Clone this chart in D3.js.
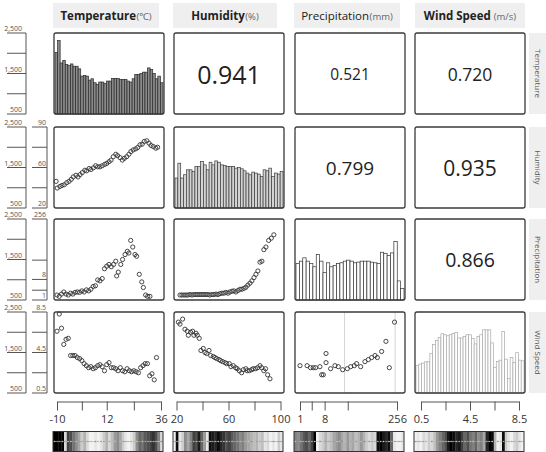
<!DOCTYPE html>
<html>
<head>
<meta charset="utf-8">
<script src="https://cdn.jsdelivr.net/npm/d3@7/dist/d3.min.js"></script>
<style>
html,body{margin:0;padding:0;background:#fff;}
svg{display:block;}
text{font-family:"Open Sans","Noto Sans",sans-serif;}
</style>
</head>
<body>
<svg id="chart" width="546" height="452"></svg>
<script>
// ---------------- DATA ----------------
const variableNames = ["Temperature", "Humidity", "Precipitation", "Wind Speed"];
const variableUnits = ["(℃)", "(%)", "(mm)", "(m/s)"];

const countTicks = [500, 1000, 1500, 2000, 2500];
const countLabels = [2500, 1500, 500];

const tempTicks = [-10, 1, 12, 24, 36];
const tempLabels = [-10, 12, 36];
const humTicks = [20, 40, 60, 80, 100];
const humLabels = [20, 60, 100];
const humLeftTicks = [20, 40, 60, 75, 90];
const humLeftLabels = [20, 60, 90];
const precTicks = [1, 3, 8, 32, 256];
const precLabels = [1, 8, 256];
const windTicks = [0.5, 2.5, 4.5, 6.5, 8.5];
const windLabels = [0.5, 4.5, 8.5];

// histogram counts (diagonal)
const tempHist = [2020, 2313, 1760, 1825, 1720, 1695, 1736, 1679, 1679, 1614, 1435, 1451, 1435, 1337, 1370, 1272, 1232, 1289, 1289, 1256, 1313, 1313, 1378, 1378, 1378, 1354, 1354, 1354, 1313, 1289, 1370, 1476, 1476, 1500, 1533, 1533, 1638, 1598, 1500, 1370, 1435, 1272];
const humHist = [1240, 1606, 1240, 1321, 1443, 1443, 1402, 1524, 1524, 1646, 1565, 1443, 1630, 1565, 1663, 1630, 1565, 1549, 1524, 1524, 1524, 1484, 1500, 1468, 1419, 1362, 1321, 1386, 1362, 1337, 1280, 1443, 1419, 1484, 1280, 1362, 1337, 1402];
const precHist = [1402, 1459, 1541, 1459, 1402, 1321, 1622, 1459, 1175, 1419, 1321, 1354, 1402, 1419, 1459, 1484, 1459, 1419, 1435, 1459, 1459, 1459, 1435, 1419, 1402, 1679, 1646, 1598, 1663, 1947, 971, 785];
const windHist = [1175, 1215, 1239, 1271, 1271, 1480, 1697, 1793, 1874, 1962, 1938, 1914, 1938, 1970, 1994, 1858, 1858, 1898, 1938, 1938, 1842, 1713, 1898, 1938, 2059, 2059, 2059, 1737, 1135, 1279, 1311, 2018, 1336, 854, 1376, 1255, 1496, 1311, 1295];

// correlations (upper triangle) : [row, col]
const corrPairs = [[0, 1], [0, 2], [0, 3], [1, 2], [1, 3], [2, 3]];
const corrValues = [0.941, 0.521, 0.720, 0.799, 0.935, 0.866];

// scatter: Humidity vs Temperature
const humTempX = [-10.4, -9.9, -8.7, -7.8, -6.8, -5.7, -4.7, -3.7, -2.8, -1.6, -0.7, 0.2, 1.2, 2.3, 3.1, 4.2, 5.0, 6.1, 7.1, 8.0, 9.0, 10.0, 11.1, 12.0, 13.0, 13.9, 14.9, 16.0, 16.8, 17.9, 18.9, 19.8, 20.8, 21.8, 22.7, 23.7, 24.8, 25.7, 26.7, 27.7, 28.6, 29.7, 30.7, 31.6, 32.6, 33.7, 34.5];
const humTempY = [46.3, 39.7, 41.3, 42.3, 43.0, 45.0, 46.3, 48.3, 50.7, 52.3, 50.7, 53.0, 55.0, 57.3, 56.7, 59.0, 58.0, 59.7, 61.3, 60.5, 60.5, 61.3, 62.3, 63.0, 64.3, 65.5, 68.0, 69.8, 68.8, 67.3, 65.5, 66.8, 68.0, 69.8, 71.8, 73.0, 73.8, 74.8, 76.8, 77.3, 79.3, 79.8, 78.0, 76.3, 75.5, 74.3, 75.0];
// scatter: Precipitation vs Temperature
const precTempX = [-10, -9, -8, -7, -6, -5, -4, -3, -2, -1, 0, 1, 2, 3, 4, 5, 6, 7, 8, 9, 10, 11, 12, 13, 14, 15, 16, 16.4, 17.1, 18.2, 19.0, 20.1, 21.1, 21.8, 22.6, 23.5, 24.5, 25.2, 26.4, 27.5, 28.2, 29.2, 30.1, 31.1];
const precTempY = [1.8, 1.55, 2.0, 2.5, 2.0, 1.8, 2.2, 2.0, 2.4, 2.5, 2.4, 2.8, 2.5, 3.1, 2.8, 3.3, 4.3, 4.6, 7.7, 7.1, 8.6, 18.1, 21.6, 24.2, 20.8, 24.2, 29.9, 10.6, 14.2, 24.2, 33.3, 44.9, 54.1, 49.1, 96.5, 68.5, 44.9, 40.6, 12.0, 6.5, 3.9, 1.8, 1.55, 1.55];
// scatter: Precipitation vs Humidity
const precHumX = [22.7, 24.2, 25.8, 27.3, 28.8, 30.4, 31.9, 33.4, 35.0, 36.5, 38.1, 39.6, 41.1, 42.7, 44.2, 45.7, 47.3, 48.8, 50.4, 51.9, 53.4, 55.0, 56.5, 58.0, 59.6, 61.1, 62.7, 64.2, 65.7, 67.3, 68.8, 70.3, 71.9, 73.4, 74.9, 76.5, 78.0, 79.6, 81.1, 82.6, 84.2, 85.7, 87.2, 88.8, 90.9, 92.9, 94.9];
const precHumY = [1.8, 1.8, 1.8, 1.8, 1.8, 1.9, 1.8, 1.9, 1.9, 1.9, 1.9, 1.9, 1.9, 1.9, 1.9, 1.8, 1.9, 1.9, 2.0, 1.9, 2.1, 2.2, 2.2, 2.4, 2.2, 2.5, 2.7, 2.8, 2.5, 2.9, 3.3, 3.3, 3.6, 4.0, 4.9, 5.8, 7.1, 9.3, 12.0, 15.4, 28.1, 29.9, 59.3, 68.5, 96.5, 108, 127];
// scatter: Wind Speed vs Temperature
const windTempX = [-10, -9, -8, -7, -6, -5, -4, -3, -2, -1, 0, 1, 2, 3, 4, 5, 6, 7, 8, 9, 10, 11, 12, 13, 14, 15, 16, 17, 18, 19, 20, 21, 22, 23, 24, 25, 26, 27, 28, 29, 30, 31, 32, 33, 34];
const windTempY = [6.6, 8.3, 6.9, 5.3, 5.8, 5.9, 4.2, 4.2, 4.2, 4.0, 3.9, 3.7, 3.4, 3.2, 3.0, 3.1, 2.9, 3.0, 3.2, 3.3, 3.1, 2.7, 3.3, 3.5, 3.0, 3.0, 2.9, 2.7, 3.0, 2.7, 2.6, 2.9, 2.7, 2.6, 2.7, 2.6, 2.5, 3.0, 3.2, 3.4, 3.4, 2.2, 2.4, 1.8, 4.0];
// scatter: Wind Speed vs Humidity
const windHumX = [21.4, 22.7, 24.7, 26.5, 28.3, 29.1, 30.9, 32.4, 33.4, 35.0, 36.0, 37.5, 38.8, 40.6, 41.9, 43.2, 45.0, 46.3, 48.3, 49.6, 50.9, 52.7, 53.9, 55.5, 57.3, 58.6, 60.6, 61.9, 63.7, 65.5, 66.7, 68.3, 70.1, 71.4, 73.4, 74.4, 76.0, 77.8, 79.0, 80.8, 82.4, 84.2, 85.5, 87.2, 88.5, 90.1, 91.9];
const windHumY = [7.5, 7.3, 7.8, 6.8, 6.6, 6.2, 6.5, 6.6, 6.2, 6.4, 6.2, 5.9, 4.7, 4.9, 4.5, 4.4, 4.7, 4.2, 4.1, 4.0, 3.9, 3.8, 3.7, 3.6, 3.5, 3.4, 3.4, 3.1, 3.2, 3.0, 2.9, 2.7, 2.5, 2.8, 2.9, 2.7, 2.7, 2.8, 2.9, 2.9, 3.0, 3.2, 3.0, 2.7, 2.9, 2.3, 1.9];
// scatter: Wind Speed vs Precipitation
const windPrecX = [1, 2.0, 2.7, 3.4, 4.1, 5.7, 6.5, 7.3, 8.8, 8.8, 11.9, 15.6, 19.0, 24.3, 31.3, 37.2, 44.6, 49.9, 60.3, 73.3, 84.9, 97.9, 112.6, 123.4, 146, 172, 195, 235];
const windPrecY = [3.2, 3.2, 3.0, 3.0, 3.0, 3.1, 2.3, 2.3, 3.5, 4.4, 2.9, 3.2, 3.1, 2.8, 2.9, 3.1, 3.2, 3.4, 3.1, 3.6, 3.8, 4.0, 4.2, 4.0, 4.6, 5.6, 3.0, 7.5];
const precRefLines = [27, 240];

// bottom density strips (darkness 0..1 per bin)
const tempStrip = [1, 1, 1, 1, 0.15, 0.75, 0.7, 0.55, 0.45, 0.35, 0.2, 0.3, 0.15, 0.05, 0.05, 0.1, 0.05, 0.1, 0.2, 0.3, 0.15, 0.25, 0.4, 0.45, 0.35, 0.2, 0.1, 0.05, 0.1, 0.2, 0.45, 0.6, 0.55, 0.65, 0.7, 0.75, 0.8, 0.7, 0.5, 0.15];
const humStrip = [0.05, 0.95, 0.1, 0.2, 0.45, 0.35, 0.5, 0.75, 0.7, 0.9, 0.6, 0.4, 0.1, 0.95, 0.9, 0.85, 0.95, 0.85, 0.8, 0.7, 0.75, 0.65, 0.6, 0.55, 0.45, 0.5, 0.4, 0.35, 0.3, 0.25, 0.3, 0.2, 0.25, 0.1, 0.15, 0.05, 0.1, 0.05, 0.2, 0.1];
const precStrip = [0.5, 0.45, 0.55, 0.65, 0.7, 0.6, 0.75, 1, 0.05, 0.15, 0.2, 0.3, 0.2, 0.25, 0.35, 0.4, 0.45, 0.35, 0.3, 0.4, 0.3, 0.35, 0.25, 0.3, 0.4, 0.3, 0.2, 0.15, 0.2, 0.15, 0.95, 1, 0.9, 0.85, 0.95, 0.6, 0.1, 0.05, 0.05, 0.1];
const windStrip = [0.05, 0.1, 0.05, 0.15, 0.1, 0.2, 0.15, 0.25, 0.4, 0.5, 0.6, 0.7, 0.9, 1, 0.95, 0.85, 0.9, 0.75, 0.6, 0.7, 0.55, 0.5, 0.6, 0.45, 0.5, 0.35, 0.85, 1, 0.95, 0.3, 0.05, 0.1, 0.95, 0.2, 0.1, 0.05, 0.15, 0.2, 0.1, 0.05];
const stripDotColors = ["#d9c95a", "#8e98dc", "#a8a8a8", "#cbbb4c", "#9aa2d6", "#c0c0c0", "#e0d06a", "#7f8ad0"];

// ---------------- LAYOUT / STYLE ----------------
const svg = d3.select("#chart");
const colX = [54, 174, 295, 415], colW = 110;
const rowY = [33, 127, 219, 312], rowH = 81;
const headerX = [53, 173, 294, 415], headerW = [106, 104, 106, 110];
const headerWeight = [700, 700, 400, 700];
const histFill = ["#8a8a8a", "#d3d3d3", "#ffffff", "#ffffff"];
const histStroke = ["#2a2a2a", "#3c3c3c", "#333333", "#a9a9a9"];
const corrFont = [25, 15.5, 17.5, 19, 21, 19.5];
const axisColor = "#555";

const hists = [tempHist, humHist, precHist, windHist];
const bottomTicks = [tempTicks, humTicks, precTicks, windTicks];
const bottomLabels = [tempLabels, humLabels, precLabels, windLabels];
const strips = [tempStrip, humStrip, precStrip, windStrip];

const xScales = [
  d3.scaleLinear().domain([-10, 36]).range([colX[0] + 3, colX[0] + 107]),
  d3.scaleLinear().domain([20, 100]).range([colX[1] + 2.5, colX[1] + 106.5]),
  d3.scalePow().exponent(0.2).domain([1, 256]).range([colX[2] + 5, colX[2] + 102]),
  d3.scaleLinear().domain([0.5, 8.5]).range([colX[3] + 6, colX[3] + 104])
];
function yScale(r) {
  const t = rowY[r], b = rowY[r] + rowH;
  if (r === 1) return d3.scaleLinear().domain([20, 60, 90]).range([b, (t + b) / 2, t]);
  if (r === 2) return d3.scalePow().exponent(0.2).domain([1, 256]).range([b, t]);
  return d3.scaleLinear().domain([0.5, 8.5]).range([b, t]);
}
function countScale(r) {
  return d3.scaleLinear().domain([500, 2500]).range([rowY[r] + rowH, rowY[r]]);
}
const leftTicks = [null, humLeftTicks, precTicks, windTicks];
const leftLabels = [null, humLeftLabels, precLabels, windLabels];

// ---------------- HEADERS ----------------
variableNames.forEach((name, i) => {
  svg.append("rect").attr("x", headerX[i]).attr("y", 3).attr("width", headerW[i]).attr("height", 25).attr("fill", "#efefef");
  const t = svg.append("text").attr("x", headerX[i] + headerW[i] / 2).attr("y", 20)
    .attr("text-anchor", "middle").attr("fill", "#222");
  t.append("tspan").attr("font-size", 11.5).attr("font-weight", headerWeight[i]).text(name);
  t.append("tspan").attr("font-size", 9.5).attr("fill", "#666").attr("dx", i === 3 ? 3 : 0.5).text(variableUnits[i]);
});

// ---------------- LEFT AXES ----------------
for (let r = 0; r < 4; r++) {
  const yc = countScale(r);
  const g = svg.append("g");
  g.append("line").attr("x1", 26).attr("x2", 26).attr("y1", yc(2500)).attr("y2", yc(500)).attr("stroke", axisColor);
  countTicks.forEach(v => g.append("line").attr("x1", 7).attr("x2", 26).attr("y1", yc(v)).attr("y2", yc(v)).attr("stroke", axisColor));
  countLabels.forEach(v => g.append("text").attr("x", 22).attr("y", yc(v) - 2).attr("text-anchor", "end")
    .attr("font-size", 7).attr("fill", "#555").text(d3.format(",")(v)));
  if (r > 0) {
    const ys = yScale(r);
    const tk = leftTicks[r];
    g.append("line").attr("x1", 47).attr("x2", 47).attr("y1", ys(tk[tk.length - 1])).attr("y2", ys(tk[0])).attr("stroke", axisColor);
    tk.forEach(v => g.append("line").attr("x1", 32).attr("x2", 47).attr("y1", ys(v)).attr("y2", ys(v)).attr("stroke", axisColor));
    leftLabels[r].forEach(v => g.append("text").attr("x", 46).attr("y", ys(v) - 2).attr("text-anchor", "end")
      .attr("font-size", 7).attr("fill", "#555").text(String(v)));
  }
}

// ---------------- PANELS ----------------
const scatters = [
  { r: 1, c: 0, x: humTempX, y: humTempY },
  { r: 2, c: 0, x: precTempX, y: precTempY },
  { r: 2, c: 1, x: precHumX, y: precHumY },
  { r: 3, c: 0, x: windTempX, y: windTempY },
  { r: 3, c: 1, x: windHumX, y: windHumY },
  { r: 3, c: 2, x: windPrecX, y: windPrecY }
];

// histograms on the diagonal
hists.forEach((vals, i) => {
  const yc = countScale(i);
  const xb = d3.scaleBand().domain(d3.range(vals.length)).range([colX[i] + 1, colX[i] + colW - 1]).padding(0);
  svg.append("g").selectAll("rect").data(vals).join("rect")
    .attr("x", (d, k) => xb(k)).attr("width", xb.bandwidth())
    .attr("y", d => yc(d)).attr("height", d => yc(500) - yc(d))
    .attr("fill", histFill[i]).attr("stroke", histStroke[i]).attr("stroke-width", 0.7);
});

// reference lines in wind vs precipitation
precRefLines.forEach(v => {
  svg.append("line").attr("x1", xScales[2](v)).attr("x2", xScales[2](v))
    .attr("y1", rowY[3]).attr("y2", rowY[3] + rowH).attr("stroke", "#d6d6d6").attr("stroke-width", 1);
});

// scatter plots
scatters.forEach(s => {
  const xs = xScales[s.c], ys = yScale(s.r);
  svg.append("g").selectAll("circle").data(s.x).join("circle")
    .attr("cx", d => xs(d)).attr("cy", (d, k) => ys(s.y[k])).attr("r", 2.1)
    .attr("fill", "none").attr("stroke", "#333").attr("stroke-width", 0.9);
});

// correlation texts
corrPairs.forEach((p, k) => {
  const [r, c] = p;
  svg.append("text").attr("x", colX[c] + colW / 2).attr("y", rowY[r] + rowH / 2)
    .attr("text-anchor", "middle").attr("dominant-baseline", "central")
    .attr("font-size", corrFont[k]).attr("fill", "#222")
    .text(corrValues[k].toFixed(3));
});

// panel borders
for (let r = 0; r < 4; r++) for (let c = 0; c < 4; c++) {
  svg.append("rect").attr("x", colX[c]).attr("y", rowY[r]).attr("width", colW).attr("height", rowH)
    .attr("rx", 2).attr("fill", "none").attr("stroke", "#3a3a3a").attr("stroke-width", 1.3);
}

// ---------------- RIGHT ROW LABELS ----------------
variableNames.forEach((name, r) => {
  svg.append("rect").attr("x", 529).attr("y", rowY[r]).attr("width", 20).attr("height", rowH).attr("fill", "#efefef");
  svg.append("text").attr("transform", `translate(538,${rowY[r] + rowH / 2}) rotate(90)`)
    .attr("text-anchor", "middle").attr("dominant-baseline", "central")
    .attr("font-size", 8).attr("fill", "#555").text(name);
});

// ---------------- BOTTOM AXES ----------------
xScales.forEach((xs, c) => {
  const labs = bottomLabels[c];
  const g = svg.append("g").attr("transform", "translate(0,401.5)")
    .call(d3.axisBottom(xs).tickValues(bottomTicks[c]).tickSize(9).tickSizeOuter(0).tickPadding(5)
      .tickFormat(d => labs.includes(d) ? String(d) : ""));
  g.select(".domain").attr("stroke", axisColor);
  g.selectAll(".tick line").attr("stroke", axisColor);
  g.selectAll(".tick text").attr("font-size", 11).attr("fill", "#333").attr("font-family", "Open Sans, sans-serif");
});

// ---------------- BOTTOM STRIPS ----------------
const greyScale = d3.scaleLinear().domain([0, 1]).range(["#ffffff", "#000000"]);
strips.forEach((vals, c) => {
  const x0 = colX[c] - 1, x1 = colX[c] + colW - 1, y0 = 431.5, h = 20;
  const xb = d3.scaleBand().domain(d3.range(vals.length)).range([x0, x1]);
  const g = svg.append("g");
  g.selectAll("rect.bin").data(vals).join("rect").attr("class", "bin")
    .attr("x", (d, k) => xb(k)).attr("width", xb.bandwidth() + 0.3)
    .attr("y", y0).attr("height", h).attr("fill", d => greyScale(d));
  g.append("line").attr("x1", x0 + 2).attr("x2", x1 - 2).attr("y1", y0 + h / 2).attr("y2", y0 + h / 2)
    .attr("stroke", "#9a9a9a").attr("stroke-width", 0.8).attr("stroke-dasharray", "1.5,1.5");
  g.selectAll("circle").data(vals).join("circle")
    .attr("cx", (d, k) => xb(k) + xb.bandwidth() / 2).attr("cy", y0 + h / 2).attr("r", 0.8)
    .attr("fill", (d, k) => stripDotColors[(k + c * 3) % stripDotColors.length]);
  g.append("rect").attr("x", x0).attr("y", y0).attr("width", x1 - x0).attr("height", h)
    .attr("fill", "none").attr("stroke", "#333").attr("stroke-width", 1);
});
</script>
</body>
</html>
